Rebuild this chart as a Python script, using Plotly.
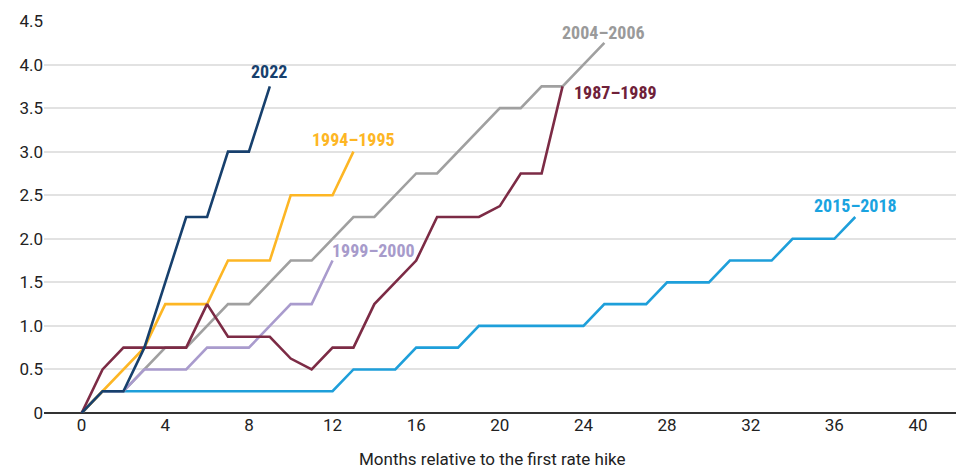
import plotly.graph_objects as go

months_2022 = list(range(0, 10))
vals_2022 = [0, 0.25, 0.25, 0.75, 1.5, 2.25, 2.25, 3.0, 3.0, 3.75]

months_1994 = list(range(0, 14))
vals_1994 = [0, 0.25, 0.5, 0.75, 1.25, 1.25, 1.25, 1.75, 1.75, 1.75, 2.5, 2.5, 2.5, 3.0]

months_1999 = list(range(0, 13))
vals_1999 = [0, 0.25, 0.25, 0.5, 0.5, 0.5, 0.75, 0.75, 0.75, 1.0, 1.25, 1.25, 1.75]

months_2004 = list(range(0, 26))
vals_2004 = [0, 0.25, 0.25, 0.5, 0.75, 0.75, 1.0, 1.25, 1.25, 1.5, 1.75, 1.75, 2.0,
             2.25, 2.25, 2.5, 2.75, 2.75, 3.0, 3.25, 3.5, 3.5, 3.75, 3.75, 4.0, 4.25]

months_1987 = list(range(0, 24))
vals_1987 = [0, 0.5, 0.75, 0.75, 0.75, 0.75, 1.25, 0.875, 0.875, 0.875, 0.625, 0.5,
             0.75, 0.75, 1.25, 1.5, 1.75, 2.25, 2.25, 2.25, 2.375, 2.75, 2.75, 3.75]

months_2015 = list(range(0, 38))
vals_2015 = [0, 0.25, 0.25, 0.25, 0.25, 0.25, 0.25, 0.25, 0.25, 0.25, 0.25, 0.25, 0.25,
             0.5, 0.5, 0.5, 0.75, 0.75, 0.75, 1.0, 1.0, 1.0, 1.0, 1.0, 1.0,
             1.25, 1.25, 1.25, 1.5, 1.5, 1.5, 1.75, 1.75, 1.75, 2.0, 2.0, 2.0, 2.25]

x_ticks = list(range(0, 41, 4))
y_ticks = [0, 0.5, 1.0, 1.5, 2.0, 2.5, 3.0, 3.5, 4.0, 4.5]
y_tick_text = ["0", "0.5", "1.0", "1.5", "2.0", "2.5", "3.0", "3.5", "4.0", "4.5"]

series = [
    ("2015–2018", months_2015, vals_2015, "#1E9FDA"),
    ("2004–2006", months_2004, vals_2004, "#A0A0A0"),
    ("1999–2000", months_1999, vals_1999, "#A99BCD"),
    ("1994–1995", months_1994, vals_1994, "#FDB624"),
    ("1987–1989", months_1987, vals_1987, "#7C2B45"),
    ("2022", months_2022, vals_2022, "#17406D"),
]

fig = go.Figure()
for name, xs, ys, col in series:
    fig.add_trace(go.Scatter(x=xs, y=ys, mode="lines", name=name,
                             line=dict(color=col, width=2.6), hoverinfo="skip"))

label_font = "Roboto Condensed, Liberation Sans Narrow, DejaVu Sans Condensed, Arial Narrow, sans-serif"
labels = [
    ("2022", 8.95, 3.92, "#17406D"),
    ("1994–1995", 12.99, 3.14, "#FDB624"),
    ("2004–2006", 24.95, 4.37, "#9A9A9A"),
    ("1987–1989", 25.52, 3.68, "#6F2139"),
    ("2015–2018", 37.02, 2.38, "#1AA3E0"),
    ("1999–2000", 13.94, 1.86, "#A79BCB"),
]
for text, x, y, col in labels:
    fig.add_annotation(x=x, y=y, text="<b>" + text + "</b>", showarrow=False,
                       xanchor="center", yanchor="middle",
                       font=dict(family=label_font, size=18, color=col))

fig.add_annotation(xref="paper", yref="paper", x=0.488, y=-0.117,
                   text="Months relative to the first rate hike", showarrow=False,
                   xanchor="center", yanchor="middle", borderpad=0,
                   font=dict(size=17, color="#222222"))

# page body has an 8px margin; shrink figure so the plot area lands where the reference has it
fig.update_layout(
    width=956, height=462,
    margin=dict(l=36, r=0, t=13, b=56.7),
    plot_bgcolor="white", paper_bgcolor="white",
    showlegend=False,
    font=dict(family="Roboto, Liberation Sans, Arial, sans-serif", size=17, color="#222222"),
)
fig.update_xaxes(range=[-1.8, 42.2], tickvals=x_ticks, showgrid=False, zeroline=False,
                 showline=False, ticks="", tickfont=dict(size=17), automargin=False)
fig.update_yaxes(range=[0, 4.5], tickvals=y_ticks, ticktext=y_tick_text,
                 showgrid=True, gridcolor="#E2E2E2", gridwidth=1.5,
                 zeroline=True, zerolinecolor="#333333", zerolinewidth=1.5,
                 showline=False, ticks="", tickfont=dict(size=17), automargin=False)

fig.write_html("out.html")
